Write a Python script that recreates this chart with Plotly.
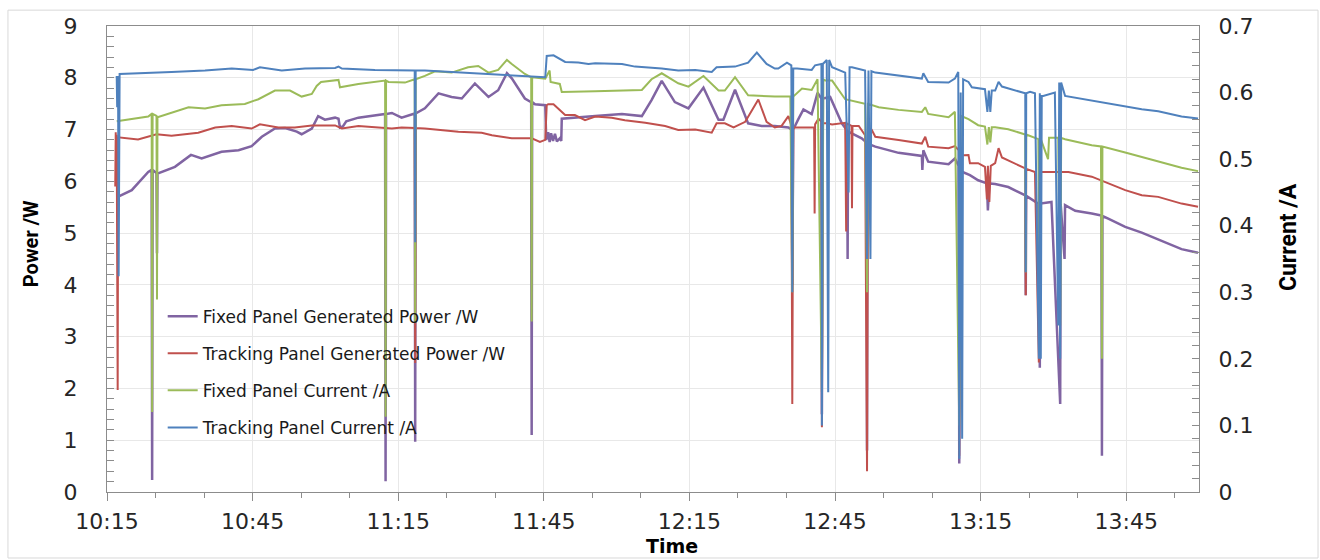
import plotly.graph_objects as go
import pandas as pd

BASE = pd.Timestamp("2000-01-01 10:15:00")

# ---- data: time in minutes after 10:15 ----
fixed_power_min = [2.0, 5.1, 8.5, 9.2, 9.3, 9.4, 10.2, 10.3, 10.4, 14.0, 17.3, 19.5, 23.6, 27.1, 29.8, 31.9, 34.6, 36.7, 39.1, 40.1,
                   42.2, 43.5, 44.9, 47.0, 47.7, 48.0, 48.6, 49.3, 51.8, 56.6, 57.3, 57.4, 57.5, 58.7, 60.7, 63.4, 63.5, 63.6, 65.5, 68.3,
                   71.0, 73.1, 75.8, 78.6, 80.6, 82.4, 83.4, 86.1, 87.4, 87.5, 87.6, 88.2, 90.3, 90.5, 90.9, 91.2, 91.5, 91.9, 92.3, 92.7,
                   93.3, 93.6, 93.7, 100.6, 106.1, 110.2, 112.2, 114.3, 117.0, 119.8, 122.9, 126.0, 127.0, 129.4, 132.1, 134.9, 137.6, 140.4, 141.1, 141.2,
                   141.4, 142.5, 143.5, 145.2, 146.4, 147.2, 147.3, 147.5, 149.0, 151.4, 152.5, 152.6, 152.7, 155.5, 156.5, 156.6, 156.7, 158.3, 163.1, 167.9,
                   168.0, 168.2, 169.2, 173.4, 174.7, 175.5, 175.6, 175.8, 177.8, 179.5, 181.3, 181.5, 181.8, 183.0, 185.7, 189.2, 189.3, 189.4, 191.9, 192.2,
                   192.3, 194.6, 196.4, 196.5, 197.3, 197.4, 199.5, 202.9, 204.9, 205.0, 205.1, 206.3, 209.8, 213.2, 216.6, 221.4, 224.8]
fixed_power_w = [5.69, 5.83, 6.18, 6.22, 0.23, 6.22, 6.16, 4.61, 6.15, 6.28, 6.51, 6.44, 6.57, 6.60, 6.68, 6.86, 7.02, 7.03, 6.96, 6.91,
                 7.02, 7.26, 7.19, 7.23, 7.21, 7.04, 7.06, 7.16, 7.23, 7.30, 7.30, 0.21, 7.30, 7.32, 7.23, 7.31, 0.97, 7.31, 7.41, 7.70,
                 7.63, 7.60, 7.89, 7.63, 7.76, 8.09, 7.99, 7.60, 7.53, 1.10, 7.53, 7.49, 7.47, 6.80, 6.95, 6.76, 6.93, 6.78, 6.92, 6.77,
                 6.83, 6.78, 7.21, 7.26, 7.30, 7.26, 7.57, 7.94, 7.53, 7.41, 7.81, 7.19, 7.19, 7.77, 7.12, 7.07, 7.07, 7.04, 7.00, 4.00,
                 7.00, 7.21, 7.39, 7.30, 7.71, 7.60, 1.50, 7.60, 7.63, 7.12, 6.98, 4.50, 6.96, 6.83, 6.75, 0.80, 6.73, 6.67, 6.55, 6.49,
                 6.22, 6.60, 6.38, 6.33, 6.44, 6.30, 0.55, 6.20, 6.12, 6.02, 5.96, 5.44, 5.96, 5.95, 5.89, 5.73, 3.80, 5.72, 5.57, 2.40,
                 5.57, 5.60, 1.70, 5.56, 4.50, 5.54, 5.43, 5.38, 5.34, 0.70, 5.33, 5.28, 5.12, 5.01, 4.88, 4.69, 4.62]

tracking_power_min = [1.7, 1.8, 1.9, 2.0, 2.2, 2.3, 6.4, 10.2, 13.3, 18.8, 22.3, 25.7, 29.8, 31.5, 35.3, 38.7, 42.2, 47.0, 48.4, 51.8,
                      58.7, 60.7, 63.4, 63.5, 63.6, 65.5, 72.4, 77.2, 79.3, 83.4, 87.5, 89.2, 90.3, 90.6, 90.9, 92.0, 94.4, 96.4, 98.5, 100.6,
                      104.0, 106.7, 110.9, 115.0, 117.7, 121.2, 124.6, 125.6, 127.3, 129.1, 131.5, 134.2, 135.9, 137.6, 139.0, 140.4, 141.0, 141.2, 141.4, 145.2,
                      145.7, 145.8, 145.9, 146.6, 147.2, 147.3, 147.5, 148.3, 149.4, 152.1, 152.3, 152.4, 153.4, 153.5, 153.6, 154.9, 156.2, 156.6, 156.8, 157.6,
                      158.3, 163.1, 167.9, 168.6, 169.2, 173.4, 174.7, 175.5, 175.6, 175.8, 177.5, 177.8, 179.5, 180.9, 181.3, 181.5, 181.8, 182.1, 183.0, 183.7,
                      184.4, 189.2, 189.3, 189.4, 191.2, 192.0, 192.2, 198.1, 202.9, 209.8, 213.2, 216.6, 221.4, 224.8]
tracking_power_w = [5.90, 6.95, 5.90, 6.90, 1.97, 6.85, 6.81, 6.91, 6.88, 6.94, 7.04, 7.07, 7.02, 7.10, 7.04, 7.04, 7.08, 7.08, 7.02, 7.07,
                    7.02, 7.04, 7.03, 2.49, 7.03, 7.02, 6.96, 6.94, 6.89, 6.83, 6.83, 6.76, 6.80, 7.47, 7.49, 7.49, 7.28, 7.28, 7.18, 7.25,
                    7.23, 7.18, 7.13, 7.07, 6.99, 7.00, 6.94, 7.12, 7.12, 7.04, 7.15, 7.58, 7.15, 7.04, 7.07, 7.26, 7.08, 1.70, 7.04, 7.04,
                    7.04, 5.38, 7.10, 7.21, 7.15, 1.25, 7.12, 7.12, 7.10, 7.13, 5.03, 7.12, 7.07, 5.48, 7.07, 7.07, 6.89, 0.40, 6.95, 6.99,
                    6.86, 6.80, 6.73, 6.86, 6.67, 6.64, 6.68, 6.60, 0.70, 6.50, 6.51, 6.35, 6.35, 6.28, 5.65, 6.30, 5.60, 6.30, 6.35, 6.64,
                    6.46, 6.25, 3.80, 6.24, 6.18, 2.50, 6.18, 6.18, 6.09, 5.83, 5.73, 5.70, 5.57, 5.51]

fixed_current_min = [2.0, 8.5, 9.2, 9.3, 9.4, 10.2, 10.3, 10.4, 16.8, 20.2, 23.6, 28.4, 31.2, 34.6, 37.7, 40.1, 42.2, 43.2, 44.1, 47.0,
                     47.7, 48.0, 51.8, 57.3, 57.4, 57.5, 58.0, 61.4, 63.4, 63.5, 63.6, 65.5, 67.6, 71.0, 74.4, 76.5, 78.6, 80.6, 82.4, 83.4,
                     86.1, 87.4, 87.5, 87.6, 90.3, 91.2, 91.4, 93.3, 93.7, 100.6, 110.2, 112.2, 114.3, 117.7, 119.8, 122.9, 126.0, 127.3, 129.4, 132.1,
                     137.6, 140.8, 141.2, 141.4, 142.2, 143.2, 145.2, 146.4, 147.3, 147.6, 148.0, 149.4, 152.1, 154.2, 156.2, 156.6, 156.8, 159.0, 163.1, 167.9,
                     168.6, 169.2, 173.4, 174.7, 175.6, 175.9, 177.5, 179.5, 180.9, 181.4, 181.7, 182.0, 182.3, 183.0, 185.7, 189.2, 189.3, 189.4, 191.9, 192.2,
                     192.4, 193.9, 194.1, 196.0, 196.4, 196.6, 197.4, 202.9, 204.8, 205.0, 205.1, 209.8, 216.6, 221.4, 224.8]
fixed_current_a = [0.557, 0.564, 0.568, 0.120, 0.568, 0.565, 0.289, 0.563, 0.578, 0.576, 0.581, 0.583, 0.590, 0.603, 0.603, 0.594, 0.598, 0.610, 0.616, 0.618,
                   0.619, 0.608, 0.613, 0.618, 0.113, 0.618, 0.616, 0.615, 0.620, 0.254, 0.620, 0.625, 0.632, 0.630, 0.638, 0.640, 0.630, 0.634, 0.649, 0.643,
                   0.628, 0.623, 0.256, 0.623, 0.621, 0.633, 0.616, 0.613, 0.601, 0.602, 0.604, 0.620, 0.629, 0.614, 0.609, 0.625, 0.603, 0.603, 0.623, 0.596,
                   0.594, 0.594, 0.300, 0.594, 0.600, 0.606, 0.604, 0.620, 0.150, 0.620, 0.618, 0.618, 0.590, 0.586, 0.583, 0.300, 0.583, 0.578, 0.574, 0.571,
                   0.578, 0.568, 0.563, 0.571, 0.100, 0.565, 0.560, 0.551, 0.549, 0.522, 0.548, 0.525, 0.548, 0.548, 0.545, 0.537, 0.330, 0.537, 0.530, 0.250,
                   0.530, 0.500, 0.532, 0.532, 0.250, 0.532, 0.530, 0.521, 0.519, 0.200, 0.519, 0.510, 0.496, 0.487, 0.482]

tracking_current_min = [2.0, 2.1, 2.2, 2.3, 2.4, 2.6, 13.3, 20.2, 25.7, 30.1, 31.5, 36.0, 40.8, 47.0, 47.7, 48.4, 55.2, 60.7, 63.4, 63.5,
                        63.6, 65.5, 72.4, 79.3, 83.4, 87.5, 90.3, 90.6, 92.0, 94.4, 97.1, 99.2, 100.6, 106.1, 108.8, 114.3, 117.7, 121.2, 124.6, 125.6,
                        129.4, 132.1, 133.9, 135.9, 137.6, 138.3, 140.1, 141.0, 141.2, 141.4, 142.2, 145.2, 145.9, 147.2, 147.3, 147.5, 148.3, 148.6, 148.8, 149.4,
                        152.1, 152.8, 153.0, 153.5, 156.2, 156.6, 156.9, 157.3, 157.5, 158.3, 163.1, 167.9, 168.2, 169.2, 173.4, 174.7, 175.4, 175.6, 175.9, 176.2,
                        176.4, 177.5, 178.2, 180.9, 181.4, 181.7, 182.0, 182.3, 183.0, 183.7, 184.4, 189.2, 189.3, 189.4, 190.2, 191.2, 192.0, 192.2, 192.4, 192.6,
                        192.9, 195.3, 196.0, 196.2, 196.4, 196.6, 197.4, 202.9, 209.8, 213.2, 216.6, 221.4, 224.8]
tracking_current_a = [0.625, 0.578, 0.625, 0.578, 0.324, 0.628, 0.631, 0.633, 0.636, 0.634, 0.638, 0.633, 0.636, 0.637, 0.639, 0.636, 0.634, 0.633, 0.633, 0.375,
                      0.633, 0.633, 0.630, 0.628, 0.626, 0.624, 0.623, 0.655, 0.656, 0.646, 0.645, 0.643, 0.644, 0.643, 0.639, 0.636, 0.633, 0.634, 0.631, 0.638,
                      0.639, 0.645, 0.660, 0.643, 0.636, 0.636, 0.645, 0.641, 0.300, 0.636, 0.636, 0.634, 0.641, 0.643, 0.100, 0.643, 0.649, 0.150, 0.649, 0.638,
                      0.630, 0.450, 0.638, 0.638, 0.633, 0.350, 0.633, 0.350, 0.632, 0.630, 0.625, 0.621, 0.629, 0.616, 0.615, 0.621, 0.631, 0.050, 0.600, 0.080,
                      0.620, 0.616, 0.608, 0.605, 0.571, 0.603, 0.571, 0.603, 0.603, 0.616, 0.609, 0.599, 0.330, 0.599, 0.601, 0.599, 0.200, 0.599, 0.200, 0.595,
                      0.595, 0.600, 0.250, 0.615, 0.200, 0.615, 0.595, 0.588, 0.580, 0.575, 0.572, 0.564, 0.561]

names = ["Fixed Panel Generated Power /W", "Tracking Panel Generated Power /W",
         "Fixed Panel Current /A", "Tracking Panel Current /A"]
colors = ["#8064A2", "#C0504D", "#9BBB59", "#4F81BD"]
x_ticks = ["10:15", "10:45", "11:15", "11:45", "12:15", "12:45", "13:15", "13:45"]
x_title, y_title, y2_title = "Time", "Power /W", "Current /A"


def to_time(mins):
    return [BASE + pd.Timedelta(minutes=m) for m in mins]


series = [
    (fixed_power_min, fixed_power_w, "y"),
    (tracking_power_min, tracking_power_w, "y"),
    (fixed_current_min, fixed_current_a, "y2"),
    (tracking_current_min, tracking_current_a, "y2"),
]

fig = go.Figure()
for i, ((tm, vals, ax), name, col) in enumerate(zip(series, names, colors)):
    fig.add_trace(go.Scatter(
        x=to_time(tm), y=vals, name=name, mode="lines", yaxis=ax,
        line=dict(color=col, width=2.5 if i == 0 else 2),
        legendgroup=str(i),
    ))

tick_font = dict(family="DejaVu Sans", size=22, color="#262626")
axis_col = "#8C8C8C"
grid_col = "#E8E8E8"

tickvals = [BASE.normalize() + pd.Timedelta(hours=int(t[:2]), minutes=int(t[3:])) for t in x_ticks]

fig.update_layout(
    width=1320, height=560,
    paper_bgcolor="white", plot_bgcolor="white",
    margin=dict(l=107, r=121, t=26, b=68, autoexpand=False),
    font=dict(family="DejaVu Sans", color="#262626"),
    showlegend=True,
    legend=dict(x=0.051, y=0.415, xanchor="left", yanchor="top",
                font=dict(family="DejaVu Sans", size=17, color="#1a1a1a"),
                bgcolor="rgba(0,0,0,0)", traceorder="grouped", tracegroupgap=12,
                itemwidth=30),
    xaxis=dict(
        automargin=False,
        range=[BASE, BASE + pd.Timedelta(minutes=225)],
        tickvals=tickvals, ticktext=x_ticks,
        ticks="outside", ticklen=8, tickcolor=axis_col,
        minor=dict(dtick=600000, tick0=BASE, ticks="outside", ticklen=5, tickcolor=axis_col, showgrid=False),
        showgrid=True, gridcolor=grid_col, gridwidth=1,
        showline=True, linecolor=axis_col, linewidth=1, mirror=True,
        tickfont=tick_font, ticklabelstandoff=2,
        zeroline=False,
    ),
    yaxis=dict(
        automargin=False,
        range=[0, 9], dtick=1, tick0=0,
        ticks="inside", ticklen=7, tickcolor=axis_col,
        minor=dict(dtick=0.2, ticks="inside", ticklen=7, tickcolor=axis_col, showgrid=False),
        showgrid=True, gridcolor=grid_col, gridwidth=1,
        showline=True, linecolor=axis_col, linewidth=1,
        tickfont=tick_font, ticklabelstandoff=24,
        zeroline=False,
    ),
    yaxis2=dict(
        automargin=False,
        range=[0, 0.7], dtick=0.1, tick0=0, overlaying="y", side="right",
        ticks="inside", ticklen=7, tickcolor=axis_col,
        minor=dict(dtick=0.02, ticks="inside", ticklen=7, tickcolor=axis_col, showgrid=False),
        showgrid=False,
        showline=True, linecolor=axis_col, linewidth=1,
        tickfont=tick_font, ticklabelstandoff=14, tickformat=".1~f",
        zeroline=False,
    ),
    annotations=[
        dict(text="<b>%s</b>" % x_title, xref="paper", yref="paper", x=0.517, y=-0.116,
             xanchor="center", yanchor="middle", showarrow=False, borderpad=0,
             font=dict(family="DejaVu Sans", size=19, color="#000")),
        dict(text="<b>%s</b>" % y_title, xref="paper", yref="paper", x=-0.0696, y=0.534,
             xanchor="center", yanchor="middle", showarrow=False, textangle=-90,
             font=dict(family="Roboto", size=20, color="#000")),
        dict(text="<b>%s</b>" % y2_title, xref="paper", yref="paper", x=1.0815, y=0.547,
             xanchor="center", yanchor="middle", showarrow=False, textangle=-90,
             font=dict(family="Roboto", size=23, color="#000")),
    ],
    shapes=[dict(type="rect", xref="paper", yref="paper",
                 x0=-0.0907, x1=1.109, y0=-0.1416, y1=1.034,
                 line=dict(color="#D9D9D9", width=1), fillcolor="rgba(0,0,0,0)", layer="below")],
)

fig.write_html("out.html", config={"displayModeBar": False},
               post_script="document.body.style.margin='0';document.body.style.padding='0';")
